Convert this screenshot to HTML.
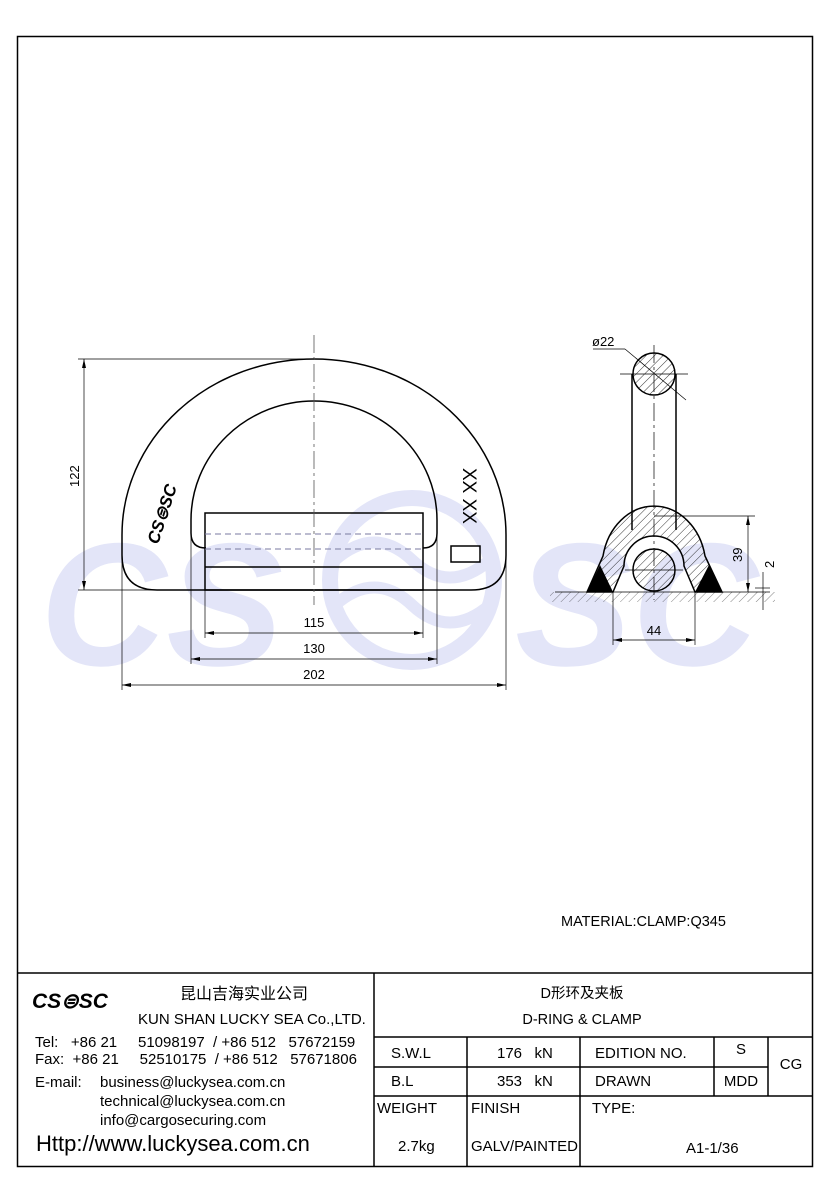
<!DOCTYPE html>
<html><head><meta charset="utf-8"><style>
html,body{margin:0;padding:0;background:#fff;}
svg{display:block;}
text{font-family:"Liberation Sans","Noto Sans CJK SC",sans-serif;fill:#000;}
</style></head><body>
<svg width="830" height="1200" viewBox="0 0 830 1200" xmlns="http://www.w3.org/2000/svg">
<defs>
<pattern id="h" width="6" height="6" patternUnits="userSpaceOnUse" patternTransform="rotate(45)">
<line x1="0" y1="0" x2="0" y2="6" stroke="#000" stroke-width="0.8"/></pattern>
<clipPath id="gc"><rect x="550" y="592" width="225" height="10"/></clipPath>
</defs>
<!-- watermark -->
<g>
<text x="40" y="665" font-size="175" font-weight="bold" font-style="italic" style="fill:#e3e5f8">CS</text>
<circle cx="412" cy="580" r="82" fill="none" stroke="#e3e5f8" stroke-width="16"/>
<path d="M335 560 Q375 525 412 560 T490 560" fill="none" stroke="#e3e5f8" stroke-width="12"/>
<path d="M335 605 Q375 570 412 605 T490 605" fill="none" stroke="#e3e5f8" stroke-width="12"/>
<text x="515" y="665" font-size="175" font-weight="bold" font-style="italic" style="fill:#e3e5f8">SC</text>
</g>
<!-- frame -->
<rect x="17.5" y="36.5" width="795" height="1130" fill="none" stroke="#000" stroke-width="1.5"/>

<!-- D ring front -->
<g fill="none" stroke="#000" stroke-width="1.5">
<path d="M157 590 Q122 590 122 555 L122 535 A192 176 0 0 1 506 535 L506 555 Q506 590 471 590 Z"/>
<path d="M205 548 L206 548 Q191 548 191 533 L191 520 A123 119 0 0 1 437 520 L437 533 Q437 548 423 548"/>
<rect x="205" y="513" width="218" height="77"/>
<line x1="205" y1="567" x2="423" y2="567"/>
<rect x="451" y="546" width="29" height="16"/>
</g>
<g stroke="#7a7aa0" stroke-width="0.9" stroke-dasharray="6,4" fill="none">
<line x1="205" y1="534" x2="423" y2="534"/><line x1="205" y1="549" x2="423" y2="549"/>
</g>
<line x1="314" y1="335" x2="314" y2="605" stroke="#555" stroke-width="0.8" stroke-dasharray="18,4,3,4"/>
<text x="0" y="0" font-size="17" font-weight="bold" font-style="italic" transform="translate(158,545) rotate(-72)">CS⊜SC</text>
<text x="0" y="0" font-size="19" transform="translate(463,468) rotate(90)">XX XX</text>
<!-- dims front -->
<g stroke="#000" stroke-width="0.7" fill="none">
<line x1="78" y1="359" x2="314" y2="359"/><line x1="78" y1="590" x2="157" y2="590"/>
<line x1="84" y1="359" x2="84" y2="590"/>
<line x1="205" y1="590" x2="205" y2="638"/><line x1="423" y1="590" x2="423" y2="638"/>
<line x1="191" y1="520" x2="191" y2="664"/><line x1="437" y1="520" x2="437" y2="664"/>
<line x1="122" y1="560" x2="122" y2="690"/><line x1="506" y1="560" x2="506" y2="690"/>
<line x1="205" y1="633" x2="423" y2="633"/>
<line x1="191" y1="659" x2="437" y2="659"/>
<line x1="122" y1="685" x2="506" y2="685"/>
</g>
<g fill="#000">
<path d="M84 359 l-2 9 h4z"/><path d="M84 590 l-2 -9 h4z"/>
<path d="M205 633 l9 -2 v4z"/><path d="M423 633 l-9 -2 v4z"/>
<path d="M191 659 l9 -2 v4z"/><path d="M437 659 l-9 -2 v4z"/>
<path d="M122 685 l9 -2 v4z"/><path d="M506 685 l-9 -2 v4z"/>
</g>
<text font-size="13" transform="translate(79,487) rotate(-90)">122</text>
<text x="314" y="627" font-size="13" text-anchor="middle">115</text>
<text x="314" y="653" font-size="13" text-anchor="middle">130</text>
<text x="314" y="679" font-size="13" text-anchor="middle">202</text>

<!-- side view -->
<g stroke="#000" stroke-width="1.5">
<path d="M587 592 L603 556 A52 62 0 0 1 705 556 L722 592 L695 592 L684 566 A30 30 0 0 0 624 566 L613 592 Z" fill="url(#h)"/>
<line x1="632" y1="374" x2="632" y2="530" /><line x1="676" y1="374" x2="676" y2="530"/>
<circle cx="654" cy="374" r="21" fill="url(#h)"/>
<circle cx="654" cy="570" r="21" fill="url(#h)"/>
</g>
<path d="M587 592 L600 565 L613 592Z M722 592 L709 565 L695 592Z" fill="#000"/>
<g stroke="#000" stroke-width="0.7" fill="none">
<line x1="654" y1="345" x2="654" y2="600" stroke-dasharray="18,4,3,4"/>
<line x1="620" y1="374" x2="688" y2="374"/><line x1="625" y1="570" x2="683" y2="570"/>
<line x1="593" y1="349" x2="625" y2="349"/><line x1="625" y1="349" x2="686" y2="400"/>
<line x1="555" y1="592" x2="770" y2="592"/>
<line x1="654" y1="516" x2="755" y2="516"/><line x1="748" y1="516" x2="748" y2="592"/>
<line x1="755" y1="588" x2="770" y2="588"/><line x1="763" y1="572" x2="763" y2="610"/>
<line x1="613" y1="592" x2="613" y2="645"/><line x1="695" y1="592" x2="695" y2="645"/>
<line x1="613" y1="640" x2="695" y2="640"/>
</g>
<rect x="550" y="592" width="225" height="10" fill="url(#h)" clip-path="url(#gc)" opacity="0.6"/>
<g fill="#000">
<path d="M748 516 l-2 9 h4z"/><path d="M748 592 l-2 -9 h4z"/>
<path d="M613 640 l9 -2 v4z"/><path d="M695 640 l-9 -2 v4z"/>
</g>
<text x="592" y="346" font-size="13">ø22</text>
<text font-size="13" transform="translate(742,562) rotate(-90)">39</text>
<text font-size="13" transform="translate(774,568) rotate(-90)">2</text>
<text x="654" y="635" font-size="13" text-anchor="middle">44</text>

<text x="561" y="926" font-size="14.5">MATERIAL:CLAMP:Q345</text>

<!-- title block -->
<g stroke="#000" stroke-width="1.5" fill="none">
<line x1="17" y1="973" x2="813" y2="973"/>
<line x1="374" y1="973" x2="374" y2="1167"/>
<line x1="374" y1="1037" x2="813" y2="1037"/>
<line x1="374" y1="1067" x2="768" y2="1067"/>
<line x1="374" y1="1096" x2="813" y2="1096"/>
<line x1="467" y1="1037" x2="467" y2="1167"/>
<line x1="580" y1="1037" x2="580" y2="1167"/>
<line x1="714" y1="1037" x2="714" y2="1096"/>
<line x1="768" y1="1037" x2="768" y2="1096"/>
</g>
<text x="32" y="1008" font-size="21" font-weight="bold" font-style="italic">CS⊜SC</text>
<text x="180" y="999" font-size="16">昆山吉海实业公司</text>
<text x="138" y="1024" font-size="15">KUN SHAN LUCKY SEA Co.,LTD.</text>
<text x="35" y="1047" font-size="15" xml:space="preserve">Tel:   +86 21     51098197  / +86 512   57672159</text>
<text x="35" y="1064" font-size="15" xml:space="preserve">Fax:  +86 21     52510175  / +86 512   57671806</text>
<text x="35" y="1087" font-size="15">E-mail:</text>
<text x="100" y="1087" font-size="15">business@luckysea.com.cn</text>
<text x="100" y="1106" font-size="15">technical@luckysea.com.cn</text>
<text x="100" y="1125" font-size="15">info@cargosecuring.com</text>
<text x="36" y="1151" font-size="22">Http://www.luckysea.com.cn</text>
<text x="582" y="998" font-size="14.5" text-anchor="middle">D形环及夹板</text>
<text x="582" y="1024" font-size="14.5" text-anchor="middle">D-RING &amp; CLAMP</text>
<text x="391" y="1058" font-size="15">S.W.L</text>
<text x="497" y="1058" font-size="15" xml:space="preserve">176   kN</text>
<text x="595" y="1058" font-size="15">EDITION NO.</text>
<text x="741" y="1054" font-size="15" text-anchor="middle">S</text>
<text x="791" y="1069" font-size="15" text-anchor="middle">CG</text>
<text x="391" y="1086" font-size="15">B.L</text>
<text x="497" y="1086" font-size="15" xml:space="preserve">353   kN</text>
<text x="595" y="1086" font-size="15">DRAWN</text>
<text x="741" y="1086" font-size="15" text-anchor="middle">MDD</text>
<text x="377" y="1113" font-size="15">WEIGHT</text>
<text x="471" y="1113" font-size="15">FINISH</text>
<text x="592" y="1113" font-size="15">TYPE:</text>
<text x="398" y="1151" font-size="15">2.7kg</text>
<text x="471" y="1151" font-size="15">GALV/PAINTED</text>
<text x="686" y="1153" font-size="15">A1-1/36</text>
</svg>
</body></html>
